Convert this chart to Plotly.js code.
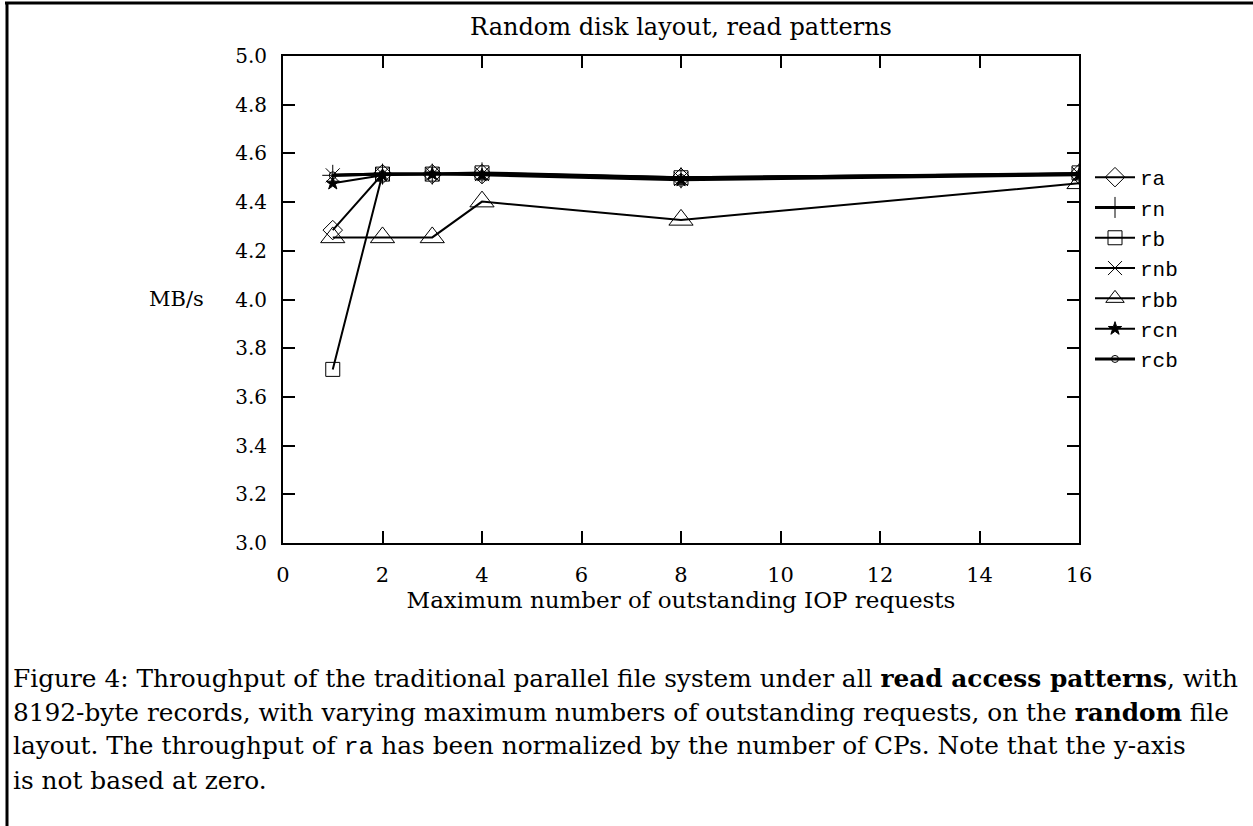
<!DOCTYPE html>
<html>
<head>
<meta charset="utf-8">
<script src="https://cdn.plot.ly/plotly-3.0.1.min.js"></script>
<style>html,body{margin:0;padding:0;background:#fff;}#chart{width:1253px;height:826px;}</style>
</head>
<body>
<div id="chart"></div>
<script>
// Maximum number of outstanding IOP requests
const xVals = [1, 2, 3, 4, 8, 16];
// Throughput (MB/s) per read access pattern
const ra  = [4.285, 4.515, 4.515, 4.515, 4.500, 4.515];
const rn  = [4.510, 4.515, 4.515, 4.520, 4.500, 4.515];
const rb  = [3.713, 4.515, 4.515, 4.520, 4.500, 4.520];
const rnb = [4.510, 4.515, 4.515, 4.515, 4.495, 4.515];
const rbb = [4.255, 4.255, 4.255, 4.402, 4.327, 4.477];
const rcn = [4.477, 4.510, 4.515, 4.510, 4.490, 4.510];
const rcb = [4.510, 4.515, 4.515, 4.515, 4.500, 4.515];

const seriesNames = ['ra', 'rn', 'rb', 'rnb', 'rbb', 'rcn', 'rcb'];
const seriesValues = [ra, rn, rb, rnb, rbb, rcn, rcb];
const yTickVals = [3.0, 3.2, 3.4, 3.6, 3.8, 4.0, 4.2, 4.4, 4.6, 4.8, 5.0];
const xTickVals = [0, 2, 4, 6, 8, 10, 12, 14, 16];

const styles = {
  ra:  {symbol: 'diamond-open', size: 15, lw: 2},
  rn:  {symbol: 'cross-thin-open', size: 15, lw: 3},
  rb:  {symbol: 'square-open', size: 14, lw: 2},
  rnb: {symbol: 'x-thin-open', size: 14, lw: 2},
  rbb: {symbol: 'triangle-up-open', size: 21, lw: 2},
  rcn: {symbol: 'star', size: 10, lw: 2},
  rcb: {symbol: 'circle-open', size: 7, lw: 3}
};

const traces = seriesNames.map((n, i) => ({
  type: 'scatter',
  mode: 'lines+markers',
  name: n,
  x: xVals,
  y: seriesValues[i],
  line: {color: '#000', width: styles[n].lw},
  marker: {symbol: styles[n].symbol, size: styles[n].size, color: '#000',
           line: {color: '#000', width: 1}}
}));

const L = 283, R = 1079, T = 56, B = 543, W = 1253, H = 826;
const px = v => (v - L) / (R - L);
const py = v => (B - v) / (B - T);

const serif = 'DejaVu Serif, Liberation Serif, serif';
const mono = 'Liberation Mono, DejaVu Sans Mono, monospace';
const capFont = {family: serif, size: 24.8, color: '#000'};
const tt = s => '<span style="font-family:' + mono + '">' + s + '</span>';
const captionLines = [
  'Figure 4: Throughput of the traditional parallel file system under all <b>read access patterns</b>, with',
  '8192-byte records, with varying maximum numbers of outstanding requests, on the <b>random</b> file',
  'layout. The throughput of ' + tt('ra') + ' has been normalized by the number of CPs. Note that the y-axis',
  'is not based at zero.'
];
const captionY = [678, 712, 746, 780];

const annotations = captionLines.map((t, i) => ({
  text: t, xref: 'paper', yref: 'paper', x: px(11), y: py(captionY[i]),
  xanchor: 'left', yanchor: 'middle', showarrow: false, font: capFont, align: 'left'
}));
annotations.push({
  text: 'MB/s', xref: 'paper', yref: 'paper', x: px(176), y: py(299),
  xanchor: 'center', yanchor: 'middle', showarrow: false,
  font: {family: serif, size: 21, color: '#000'}
});

const layout = {
  width: W, height: H,
  margin: {l: L, r: W - R, t: T, b: H - B, pad: 0},
  paper_bgcolor: '#fff', plot_bgcolor: '#fff',
  showlegend: true,
  title: {text: 'Random disk layout, read patterns', x: 0.5, xref: 'paper', xanchor: 'center',
          y: 1 - 27 / H, yref: 'container', yanchor: 'middle',
          font: {family: serif, size: 24, color: '#000'}},
  xaxis: {range: [0, 16], tickvals: xTickVals, ticktext: xTickVals.map(String),
          ticks: 'inside', ticklen: 12, tickwidth: 2, tickcolor: '#000',
          showline: true, linewidth: 2, linecolor: '#000', mirror: 'allticks',
          showgrid: false, zeroline: false, ticklabelstandoff: 12,
          tickfont: {family: serif, size: 21, color: '#000'},
          title: {text: 'Maximum number of outstanding IOP requests', standoff: 0,
                  font: {family: serif, size: 23, color: '#000'}}},
  yaxis: {range: [3.0, 5.0], tickvals: yTickVals, ticktext: yTickVals.map(v => v.toFixed(1)),
          ticks: 'inside', ticklen: 12, tickwidth: 2, tickcolor: '#000',
          showline: true, linewidth: 2, linecolor: '#000', mirror: 'allticks',
          showgrid: false, zeroline: false, ticklabelstandoff: 10,
          tickfont: {family: serif, size: 20, color: '#000'}},
  legend: {x: px(1090), y: py(157), xanchor: 'left', yanchor: 'top',
           font: {family: mono, size: 21, color: '#000'},
           bgcolor: 'rgba(0,0,0,0)', borderwidth: 0, itemwidth: 40, tracegroupgap: 0},
  shapes: [
    {type: 'line', xref: 'paper', yref: 'paper', x0: px(5), x1: px(1253), y0: py(3), y1: py(3),
     line: {color: '#000', width: 3}},
    {type: 'line', xref: 'paper', yref: 'paper', x0: px(7), x1: px(7), y0: py(2), y1: py(826),
     line: {color: '#000', width: 3}}
  ],
  annotations: annotations
};

Plotly.newPlot('chart', traces, layout, {displayModeBar: false, staticPlot: true});
</script>
</body>
</html>
